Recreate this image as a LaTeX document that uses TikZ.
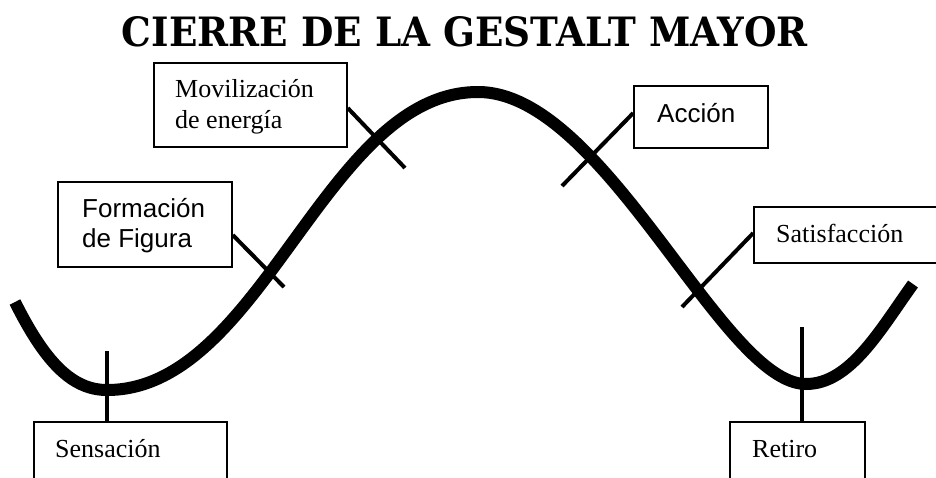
\documentclass[tikz,border=0pt]{standalone}
\usepackage{fontspec}
\setmainfont{Liberation Serif}
\newfontfamily\arialf{Liberation Sans}
\newfontfamily\titlef{DejaVu Serif}
\tikzset{
  box/.style={draw=black, line width=1.5pt, inner sep=0pt},
  tick/.style={line width=4pt},
  lbl/.style={anchor=base west, inner sep=0pt, font=\fontsize{26}{29}\selectfont},
  lbls/.style={lbl, font=\arialf\fontsize{26}{29}\selectfont},
  wave/.style={line width=12pt}
}
\begin{document}
\begin{tikzpicture}[x=1pt,y=-1pt]
\useasboundingbox (0,0) rectangle (936,477);
\clip (0,0) rectangle (936,477);
\fill[white] (0,0) rectangle (936,477);
% title
\node[inner sep=0pt] (title) at (465,32) {\resizebox{686pt}{30pt}{\titlef\bfseries CIERRE DE LA GESTALT MAYOR}};
% boxes
\node[box, minimum width=193pt, minimum height=84pt] (mov) at (250.5,105) {};
\node[box, minimum width=174pt, minimum height=85pt] (form) at (145,224.5) {};
\node[box, minimum width=193pt, minimum height=120pt] (sens) at (130.5,482) {};
\node[box, minimum width=134pt, minimum height=62pt] (acc) at (701,117) {};
\node[box, minimum width=220pt, minimum height=56pt] (sat) at (864,235) {};
\node[box, minimum width=135pt, minimum height=120pt] (ret) at (797.5,482) {};
% labels
\node[lbl] (movA) at (175,97) {Movilización};
\node[lbl] (movB) at (175,128) {de energía};
\node[lbls] (formA) at (82,217) {Formación};
\node[lbls] (formB) at (82,247) {de Figura};
\node[lbl] (sensT) at (55,457) {Sensación};
\node[lbls] (accT) at (657,122) {Acción};
\node[lbl] (satT) at (776,242) {Satisfacción};
\node[lbl] (retT) at (752,457) {Retiro};
% wave
\draw[wave] (15,302) .. controls (45,362) and (72,390) .. (107,390)
  .. controls (262,390) and (325,92) .. (478,92)
  .. controls (605,92) and (722,384) .. (806,384)
  .. controls (850,384) and (880,330) .. (913,284);
% ticks
\coordinate (sensEnd) at (107,351);
\coordinate (retEnd) at (802,327);
\coordinate (formEnd) at (284,287);
\coordinate (movEnd) at (405,168);
\coordinate (accEnd) at (562,186);
\coordinate (satEnd) at (682,307);
\draw[tick] (sensEnd) -- (sens.north -| sensEnd);
\draw[tick] (retEnd) -- (ret.north -| retEnd);
\draw[tick] (form.east |- 0,235) -- (formEnd);
\draw[tick] (mov.east |- 0,108) -- (movEnd);
\draw[tick] (acc.west |- 0,113) -- (accEnd);
\draw[tick] (sat.west |- 0,233) -- (satEnd);
\end{tikzpicture}
\end{document}
